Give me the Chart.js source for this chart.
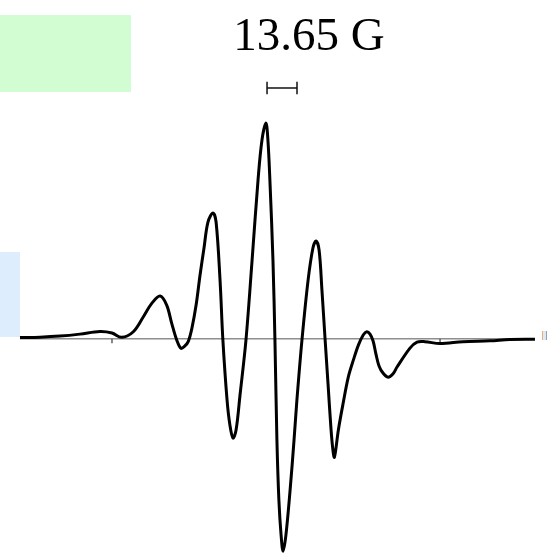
<!DOCTYPE html>
<html>
<head>
<meta charset="utf-8">
<script src="https://cdn.jsdelivr.net/npm/chart.js@4.4.1/dist/chart.umd.min.js"></script>
<style>
html,body{margin:0;padding:0;background:#fff;}
#wrap{width:549px;height:554px;}
</style>
</head>
<body>
<div id="wrap"><canvas id="c" width="549" height="554"></canvas></div>
<script>
// Magnetic field offset (G) and first-derivative EPR intensity (a.u.)
const fieldG = [-115.9,-106.8,-97.7,-88.6,-79.5,-74.0,-69.6,-64.3,-59.7,-55.9,-52.1,-49.1,-46.8,-44.5,-42.6,-40.8,-39.3,-37.6,-35.7,-33.9,-32.1,-30.3,-28.0,-26.6,-24.8,-23.5,-21.6,-20.3,-18.9,-17.5,-15.7,-13.0,-10.2,-7.5,-5.7,-3.9,-3.0,-2.1,-0.7,0.2,1.1,2.0,3.0,3.9,5.2,7.1,8.9,10.2,12.5,15.3,17.5,18.9,20.3,21.6,23.0,24.4,25.7,26.6,27.3,29.1,31.3,33.6,35.9,38.2,40.4,42.0,43.5,44.9,46.2,47.6,49.4,51.7,54.0,55.8,61.7,64.9,68.5,75.4,85.8,98.1,107.2,118.6];
const intensity = [0.6,0.8,1.3,2.2,3.4,2.7,0.7,3.3,10.3,16.5,19.9,15.7,7.2,-0.6,-4.4,-3.3,-1.3,5.0,15.7,29.7,42.2,54.3,58.5,54.3,27.3,-0.6,-28.5,-40.1,-46.1,-42.4,-26.1,-0.6,36.6,73.8,92.4,100.3,92.4,73.8,36.6,-0.6,-47.0,-74.9,-91.2,-98.7,-91.2,-70.3,-47.0,-28.5,-0.6,27.3,42.2,45.5,41.3,22.7,0.4,-21.3,-41.5,-51.7,-55.0,-42.2,-29.7,-17.8,-9.9,-2.9,1.8,3.3,2.2,-1.0,-7.1,-12.6,-15.9,-17.8,-16.2,-13.1,-4.3,-1.5,-1.3,-2.2,-1.3,-0.9,-0.3,-0.2];
// Baseline extent and its tick marks (G)
const baselineG = [-115.9, 118.6];
const baselineTicksG = [-74.0, 75.4];
// Scale bar: 13.65 G
const scaleBarLabel = "13.65 G";
const scaleBarStartG = -3.4;
const scaleBarWidthG = 13.65;
const scaleBarLevel = 116.6;

const curve = fieldG.map((g,i)=>({x:g,y:intensity[i]}));
const datasets = [
  {data:curve, borderColor:'#000', borderWidth:3, pointRadius:0, tension:0.35, fill:false, order:0},
  {data:[{x:baselineG[0],y:0},{x:baselineG[1],y:0}], borderColor:'#555', borderWidth:1, pointRadius:0, tension:0, order:2}
];
baselineTicksG.forEach(g=>datasets.push({data:[{x:g,y:0},{x:g,y:-2}], borderColor:'#777', borderWidth:1, pointRadius:0, tension:0, order:2}));
const sbEnd = scaleBarStartG + scaleBarWidthG;
datasets.push({data:[{x:scaleBarStartG,y:scaleBarLevel},{x:sbEnd,y:scaleBarLevel}], borderColor:'#111', borderWidth:1.5, pointRadius:0, tension:0, order:1});
[scaleBarStartG, sbEnd].forEach(g=>datasets.push({data:[{x:g,y:scaleBarLevel+2.9},{x:g,y:scaleBarLevel-2.9}], borderColor:'#111', borderWidth:1.5, pointRadius:0, tension:0, order:1}));

const deco = {
  id:'deco',
  beforeDatasetsDraw(chart){
    const ctx = chart.ctx;
    ctx.save();
    ctx.fillStyle = '#d2fcd2';
    ctx.fillRect(0,15,131,77);
    ctx.fillStyle = '#ddedfd';
    ctx.fillRect(0,252,20,85);
    ctx.restore();
  },
  afterDatasetsDraw(chart){
    const ctx = chart.ctx;
    ctx.save();
    ctx.fillStyle = '#000';
    ctx.font = '47px "Liberation Serif", "Times New Roman", serif';
    ctx.textAlign = 'center';
    ctx.textBaseline = 'alphabetic';
    ctx.fillText(scaleBarLabel, 309, 50);
    // small marker at right end of the baseline
    ctx.fillStyle = '#dbe9f7';
    ctx.fillRect(543,331,3,9);
    ctx.fillStyle = '#f0b070';
    ctx.fillRect(542,331,1,9);
    ctx.fillStyle = '#9aa0a8';
    ctx.fillRect(546,331,1,9);
    ctx.restore();
  }
};

new Chart(document.getElementById('c'), {
  type:'line',
  data:{datasets},
  options:{
    responsive:false,
    animation:false,
    layout:{padding:0},
    plugins:{legend:{display:false}, tooltip:{enabled:false}, title:{display:false}},
    scales:{
      x:{type:'linear', min:-125, max:125, display:false},
      y:{type:'linear', min:-100, max:157.5, display:false}
    },
    elements:{line:{borderCapStyle:'butt'}}
  },
  plugins:[deco]
});
</script>
</body>
</html>
